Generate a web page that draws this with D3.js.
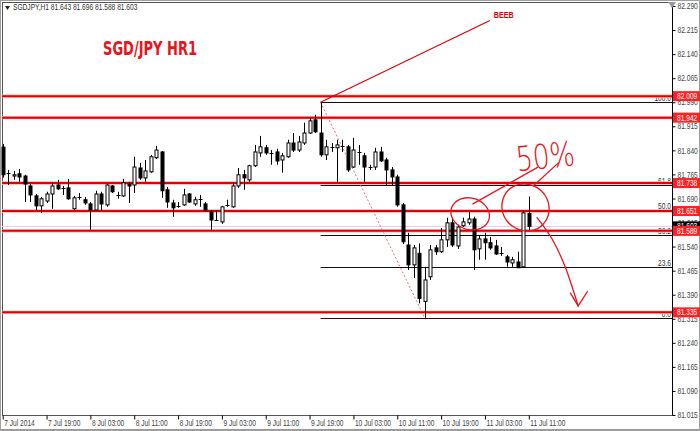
<!DOCTYPE html>
<html><head><meta charset="utf-8">
<script src="https://cdn.jsdelivr.net/npm/d3@7"></script>
<style>
html,body{margin:0;padding:0;background:#fff;}
svg{display:block;}
.ax text{font-family:"Liberation Sans",Arial,sans-serif;font-size:8.3px;fill:#444;}
</style></head><body>
<svg id="c" width="700" height="431"></svg>
<script>
// ---- data ----
const symbol = "SGDJPY,H1";
const title = "SGD/JPY HR1";
const xLabels = ["7 Jul 2014","7 Jul 19:00","8 Jul 03:00","8 Jul 11:00","8 Jul 19:00","9 Jul 03:00","9 Jul 11:00","9 Jul 19:00","10 Jul 03:00","10 Jul 11:00","10 Jul 19:00","11 Jul 03:00","11 Jul 11:00"];
const xTickIdx = [0,8,16,24,32,40,48,56,64,72,80,88,96];
const yTicks = [82.290,82.215,82.140,82.065,81.990,81.915,81.840,81.765,81.690,81.615,81.540,81.465,81.390,81.315,81.240,81.165,81.090,81.015];
const open = [
81.850,81.767,81.760,81.767,81.760,81.729,81.698,81.667,81.682,81.704,
81.732,81.723,81.723,81.658,81.692,81.686,81.673,81.654,81.704,81.670,
81.729,81.701,81.698,81.735,81.732,81.785,81.754,81.773,81.817,81.835,
81.717,81.676,81.667,81.670,81.704,81.673,81.689,81.673,81.648,81.623,
81.617,81.670,81.664,81.729,81.764,81.748,81.792,81.832,81.848,81.832,
81.835,81.810,81.820,81.863,81.841,81.863,81.894,81.935,81.894,81.826,
81.851,81.848,81.854,81.851,81.788,81.835,81.823,81.788,81.788,81.835,
81.810,81.779,81.757,81.670,81.545,81.483,81.519,81.369,81.446,81.536,
81.524,81.561,81.614,81.542,81.605,81.614,81.626,81.533,81.564,81.552,
81.542,81.520,81.508,81.489,81.492,81.477,81.643];
const high = [
81.860,81.779,81.776,81.782,81.764,81.735,81.704,81.695,81.711,81.739,
81.748,81.729,81.751,81.698,81.707,81.695,81.679,81.714,81.711,81.735,
81.732,81.711,81.751,81.742,81.820,81.801,81.810,81.826,81.854,81.838,
81.726,81.686,81.679,81.720,81.707,81.695,81.701,81.679,81.654,81.654,
81.667,81.686,81.739,81.785,81.779,81.795,81.857,81.885,81.857,81.841,
81.845,81.832,81.873,81.894,81.885,81.926,81.941,81.951,81.990,81.873,
81.863,81.873,81.873,81.857,81.879,81.857,81.832,81.795,81.848,81.851,
81.817,81.788,81.764,81.676,81.583,81.545,81.550,81.477,81.545,81.545,
81.598,81.630,81.630,81.608,81.630,81.648,81.633,81.576,81.583,81.570,
81.561,81.539,81.514,81.508,81.524,81.654,81.696];
const low = [
81.755,81.732,81.748,81.742,81.679,81.679,81.654,81.645,81.676,81.658,
81.717,81.701,81.686,81.655,81.686,81.670,81.592,81.651,81.651,81.664,
81.707,81.689,81.695,81.676,81.707,81.748,81.742,81.770,81.813,81.692,
81.661,81.633,81.661,81.667,81.676,81.667,81.664,81.648,81.592,81.620,
81.611,81.664,81.661,81.723,81.717,81.742,81.788,81.820,81.826,81.795,
81.795,81.770,81.817,81.835,81.835,81.857,81.891,81.894,81.820,81.810,
81.835,81.742,81.835,81.773,81.785,81.795,81.742,81.779,81.779,81.804,
81.732,81.732,81.664,81.548,81.467,81.442,81.363,81.318,81.436,81.514,
81.520,81.539,81.539,81.533,81.601,81.608,81.467,81.499,81.499,81.530,
81.514,81.511,81.477,81.477,81.474,81.474,81.588];
const close = [
81.764,81.770,81.764,81.757,81.735,81.701,81.667,81.689,81.704,81.729,
81.720,81.721,81.689,81.692,81.695,81.676,81.654,81.704,81.673,81.732,
81.711,81.703,81.739,81.729,81.788,81.754,81.776,81.820,81.841,81.714,
81.679,81.661,81.665,81.701,81.679,81.686,81.687,81.654,81.623,81.625,
81.664,81.669,81.729,81.764,81.754,81.792,81.835,81.851,81.832,81.834,
81.807,81.823,81.863,81.841,81.866,81.894,81.932,81.898,81.826,81.851,
81.852,81.857,81.853,81.779,81.841,81.834,81.788,81.787,81.835,81.807,
81.779,81.757,81.670,81.555,81.483,81.536,81.378,81.436,81.530,81.524,
81.561,81.614,81.545,81.601,81.617,81.626,81.530,81.564,81.552,81.536,
81.517,81.519,81.492,81.499,81.474,81.645,81.603];
const redLevels = [82.009,81.942,81.738,81.651,81.589,81.335];
const bid = 81.603;
const fibStart = 58, fibEnd = 77;
const fibHigh = 81.990, fibLow = 81.318;
const fibLevels = [0,23.6,38.2,50,61.8,100];
// hand-drawn annotations, in (bar index, price)
const circles = [{i:85.3,p:81.642,ri:3.5,rp:0.050},{i:95.4,p:81.662,ri:4.1,rp:0.077}];
const strokeA = [[85.8,81.673],[97.6,81.787]];
const strokeB = [[97.0,81.732],[101.4,81.801]];
const arrowPath = [[97.5,81.630],[100.3,81.562],[102.7,81.474],[105.0,81.355]];
const arrowHead = [[103.6,81.395],[105.0,81.355],[106.7,81.400]];
const beebLine = [[58,81.990],[88.9,82.245]];
const pctPos = [93.9,81.775];
const beebPos = [89.6,82.252];

// ---- layout ----
const L=2, R=672, T=2, B=415;
const NARROW = "scale(0.8,1)";
const svg = d3.select("#c");
const x = d3.scaleLinear().domain([0,96]).range([2.7,528.8]);
const y = d3.scaleLinear().domain([81.015,82.290]).range([415,6]);

svg.append("rect").attr("x",0.5).attr("y",0.5).attr("width",699).attr("height",430).attr("fill","#fff").attr("stroke","#a0a0a0");
svg.append("rect").attr("x",L+0.5).attr("y",T+0.5).attr("width",R-L).attr("height",B-T).attr("fill","#fff").attr("stroke","#555");

const g = svg.append("g");
// bid line
g.append("line").attr("x1",L).attr("x2",R).attr("y1",y(bid)).attr("y2",y(bid)).attr("stroke","#d8d0ec").attr("stroke-width",1);

function ntext(parent, px, py, str, anchor, fill, size, weight){
  return parent.append("text").attr("transform",`translate(${px},${py}) ${NARROW}`)
    .attr("text-anchor",anchor||"start").attr("font-family","Liberation Sans, Arial, sans-serif")
    .attr("font-size",(size||8)+"px").attr("font-weight",weight||"normal").attr("fill",fill||"#333").text(str);
}

// fib lines
const fv = l => fibLow + (fibHigh-fibLow)*l/100;
fibLevels.forEach(l=>{
  const yy = Math.round(y(fv(l)))+0.5;
  g.append("line").attr("x1",x(fibStart)).attr("x2",R).attr("y1",yy).attr("y2",yy)
   .attr("stroke","#111").attr("stroke-width",1.2);
  ntext(g, R-1, yy-1.5, l.toFixed(1), "end", "#333", 8.3);
});
// fib trend line
g.append("line").attr("x1",x(fibStart)).attr("y1",y(fibHigh)).attr("x2",x(fibEnd)).attr("y2",y(fibLow))
 .attr("stroke","#e06060").attr("stroke-width",0.9).attr("stroke-dasharray","2,2");

// red levels
redLevels.forEach(v=>{
  g.append("line").attr("x1",L).attr("x2",R).attr("y1",y(v)).attr("y2",y(v)).attr("stroke","#ffb0b0").attr("stroke-width",3.4);
  g.append("line").attr("x1",L).attr("x2",R).attr("y1",y(v)).attr("y2",y(v)).attr("stroke","#e40000").attr("stroke-width",2);
});

// candles
const bars = open.map((o,i)=>({i,o,h:high[i],l:low[i],c:close[i]}));
const cg = g.append("g");
bars.forEach(d=>{
  const cx = Math.round(x(d.i))+0.5;
  cg.append("line").attr("x1",cx).attr("x2",cx).attr("y1",y(d.h)).attr("y2",y(d.l)).attr("stroke","#000").attr("stroke-width",1);
  const top = y(Math.max(d.o,d.c)), bot = y(Math.min(d.o,d.c));
  if (bot-top < 1.2) {
    cg.append("line").attr("x1",cx-2).attr("x2",cx+2).attr("y1",Math.round((top+bot)/2)+0.5).attr("y2",Math.round((top+bot)/2)+0.5).attr("stroke","#000");
  } else {
    cg.append("rect").attr("x",cx-1.5).attr("y",top).attr("width",3).attr("height",bot-top)
      .attr("fill", d.c>=d.o ? "#fff" : "#000").attr("stroke","#000").attr("stroke-width",1);
  }
});

// annotation line to BEEB
const ln = d3.line().x(d=>x(d[0])).y(d=>y(d[1]));
g.append("path").attr("d",ln(beebLine)).attr("stroke","#e00000").attr("stroke-width",1.2).attr("fill","none");
ntext(g, x(beebPos[0]), y(beebPos[1]), "BEEB", "start", "#e00000", 9, "bold");

// hand-drawn
const hand = g.append("g").attr("stroke","#e8141b").attr("fill","none").attr("stroke-width",1.3).attr("stroke-linecap","round");
const lc = d3.line().x(d=>x(d[0])).y(d=>y(d[1])).curve(d3.curveCardinal);
circles.forEach((c,k)=>{
  const pts = d3.range(0,24).map(j=>{
    const a = -Math.PI/2 + j/24*2*Math.PI*1.04;
    const w = 1 + 0.06*Math.sin(a*2+k);
    return [c.i + c.ri*w*Math.cos(a), c.p - c.rp*w*Math.sin(a)];
  });
  hand.append("path").attr("d",lc(pts));
});
hand.append("path").attr("d",ln(strokeA));
hand.append("path").attr("d",ln(strokeB));
hand.append("path").attr("d",lc(arrowPath));
hand.append("path").attr("d",ln(arrowHead));
svg.append("text").attr("transform",`translate(${x(pctPos[0])},${y(pctPos[1])}) rotate(-6) scale(0.78,1)`)
 .attr("font-family","DejaVu Sans").attr("font-weight","200").attr("font-size","34px").attr("fill","#e8141b").text("50%");

// axes
const ya = svg.append("g").attr("class","ax").attr("transform",`translate(${R+0.5},0)`)
  .call(d3.axisRight(y).tickValues(yTicks).tickSize(3).tickSizeOuter(0).tickPadding(2).tickFormat(d3.format(".3f")));
ya.select(".domain").attr("stroke","#000").attr("d",`M0,${T}V${B}`);
ya.selectAll(".tick line").attr("stroke","#000");
ya.selectAll(".tick text").attr("x",0).attr("transform","translate(5,0) "+NARROW);

const xa = svg.append("g").attr("class","ax").attr("transform",`translate(0,${B+0.5})`)
  .call(d3.axisBottom(x).tickValues(xTickIdx).tickSize(4).tickFormat((d,i)=>xLabels[i]));
xa.select(".domain").remove();
xa.selectAll(".tick line").attr("stroke","#000");
xa.selectAll(".tick text").attr("text-anchor","start").attr("x",0).attr("y",5).attr("dy","0.71em").attr("transform","translate(1,0) "+NARROW);

// right-side price boxes
const fmt = d3.format(".3f");
const boxG = svg.append("g");
boxG.append("rect").attr("x",R+1).attr("y",y(bid)-5).attr("width",27).attr("height",10).attr("fill","#000");
ntext(boxG, R+5, y(bid)+3, fmt(bid), "start", "#fff", 8.3);
redLevels.forEach(v=>{
  boxG.append("rect").attr("x",R+1).attr("y",y(v)-5).attr("width",27).attr("height",10).attr("fill","#ff2020");
  ntext(boxG, R+5, y(v)+3, fmt(v), "start", "#fff", 8.3);
});

// header & title
svg.append("path").attr("d","M5,6 L10,6 L7.5,10 Z").attr("fill","#222");
ntext(svg, 13, 10, `${symbol}  ${fmt(open[96])} ${fmt(high[96])} ${fmt(low[96])} ${fmt(close[96])}`, "start", "#333", 8.3);
svg.append("text").attr("x",103).attr("y",55).attr("fill","#e8141b")
 .attr("font-family","DejaVu Sans Condensed, Liberation Sans, sans-serif").attr("font-weight","bold").attr("font-size","19px")
 .attr("textLength",94).attr("lengthAdjust","spacingAndGlyphs").text(title);
// chart shift marker
svg.append("path").attr("d","M668,2 L676,2 L672,8 Z").attr("fill","#999");
svg.append("line").attr("x1",0).attr("x2",700).attr("y1",429.5).attr("y2",429.5).attr("stroke","#999");
</script></body></html>
